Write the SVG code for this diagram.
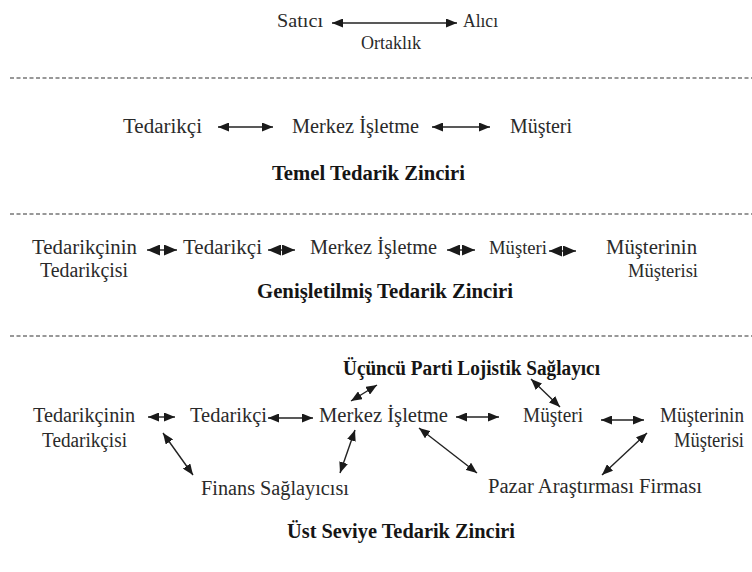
<svg xmlns="http://www.w3.org/2000/svg" width="752" height="572" viewBox="0 0 752 572">
<style>
text{font-family:"Liberation Serif","Times New Roman","DejaVu Serif",serif;font-size:20px;fill:#2a2a2a}
.s{font-size:18px}
.m{font-size:19px}
.b{font-weight:bold;fill:#151515}
.ln{stroke:#222;stroke-width:1.4;fill:none;marker-start:url(#ah);marker-end:url(#ah)}
.big{stroke:#222;stroke-width:1.4;fill:none;marker-start:url(#ab);marker-end:url(#ab)}
.sep{stroke:#333;stroke-width:1.2;stroke-dasharray:4 2.5}
</style>
<defs>
<marker id="ah" markerUnits="userSpaceOnUse" markerWidth="11" markerHeight="9" refX="11" refY="4.5" orient="auto-start-reverse"><path d="M0,0 L11,4.5 L0,9 z" fill="#1a1a1a"/></marker>
<marker id="ab" markerUnits="userSpaceOnUse" markerWidth="13" markerHeight="11" refX="13" refY="5.5" orient="auto-start-reverse"><path d="M0,0 L13,5.5 L0,11 z" fill="#1a1a1a"/></marker>
</defs>
<rect width="752" height="572" fill="#fff"/>
<g id="separators">
<line class="sep" x1="10" y1="78" x2="752" y2="78"/>
<line class="sep" x1="10" y1="214" x2="752" y2="214"/>
<line class="sep" x1="10" y1="336" x2="752" y2="336"/>
</g>
<g id="connectors">
<line class="ln" x1="332" y1="23" x2="457" y2="23"/>
<line class="ln" x1="218" y1="127" x2="273" y2="127"/>
<line class="ln" x1="432" y1="127" x2="490" y2="127"/>
<line class="big" x1="147" y1="250" x2="177" y2="250"/>
<line class="big" x1="268" y1="250" x2="295" y2="250"/>
<line class="big" x1="447" y1="250" x2="475" y2="250"/>
<line class="big" x1="549" y1="251" x2="576" y2="251"/>
<line class="ln" x1="148" y1="417" x2="175" y2="417"/>
<line class="ln" x1="268" y1="418" x2="313" y2="418"/>
<line class="ln" x1="456" y1="417" x2="499" y2="417"/>
<line class="ln" x1="601" y1="420" x2="644" y2="420"/>
<line class="ln" x1="163" y1="433" x2="193" y2="475"/>
<line class="ln" x1="355" y1="430" x2="340" y2="473"/>
<line class="ln" x1="351" y1="401" x2="377" y2="385"/>
<line class="ln" x1="531" y1="379" x2="560" y2="407"/>
<line class="ln" x1="419" y1="428" x2="477" y2="473"/>
<line class="ln" x1="647" y1="433" x2="602" y2="475"/>
</g>
<g id="satici"><text class="s" x="277" y="27" textLength="46" lengthAdjust="spacingAndGlyphs">Satıcı</text></g>
<g id="alici"><text class="s" x="463" y="27" textLength="35" lengthAdjust="spacingAndGlyphs">Alıcı</text></g>
<g id="ortaklik"><text class="s" x="361" y="49" textLength="60" lengthAdjust="spacingAndGlyphs">Ortaklık</text></g>

<g id="r2-tedarikci"><text x="123" y="133" textLength="79" lengthAdjust="spacingAndGlyphs">Tedarikçi</text></g>
<g id="r2-merkez"><text x="292" y="133" textLength="127" lengthAdjust="spacingAndGlyphs">Merkez İşletme</text></g>
<g id="r2-musteri"><text x="510" y="133" textLength="62" lengthAdjust="spacingAndGlyphs">Müşteri</text></g>
<g id="r2-title"><text class="b" x="272" y="180" textLength="193" lengthAdjust="spacingAndGlyphs">Temel Tedarik Zinciri</text></g>

<g id="r3-tt"><text x="32" y="254" textLength="105" lengthAdjust="spacingAndGlyphs">Tedarikçinin</text><text x="40" y="277" textLength="88" lengthAdjust="spacingAndGlyphs">Tedarikçisi</text></g>
<g id="r3-tedarikci"><text x="183" y="254" textLength="79" lengthAdjust="spacingAndGlyphs">Tedarikçi</text></g>
<g id="r3-merkez"><text x="310" y="254" textLength="127" lengthAdjust="spacingAndGlyphs">Merkez İşletme</text></g>
<g id="r3-musteri"><text class="m" x="489" y="254" textLength="58" lengthAdjust="spacingAndGlyphs">Müşteri</text></g>
<g id="r3-mm"><text x="606" y="254" textLength="91" lengthAdjust="spacingAndGlyphs">Müşterinin</text><text class="m" x="628" y="277" textLength="70" lengthAdjust="spacingAndGlyphs">Müşterisi</text></g>
<g id="r3-title"><text class="b" x="257" y="298" textLength="256" lengthAdjust="spacingAndGlyphs">Genişletilmiş Tedarik Zinciri</text></g>

<g id="r4-3pl"><text class="b" x="343" y="375" textLength="257" lengthAdjust="spacingAndGlyphs">Üçüncü Parti Lojistik Sağlayıcı</text></g>
<g id="r4-tt"><text x="33" y="422" textLength="102" lengthAdjust="spacingAndGlyphs">Tedarikçinin</text><text x="42" y="447" textLength="85" lengthAdjust="spacingAndGlyphs">Tedarikçisi</text></g>
<g id="r4-tedarikci"><text x="190" y="422" textLength="77" lengthAdjust="spacingAndGlyphs">Tedarikçi</text></g>
<g id="r4-merkez"><text x="319" y="422" textLength="129" lengthAdjust="spacingAndGlyphs">Merkez İşletme</text></g>
<g id="r4-musteri"><text x="523" y="422" textLength="60" lengthAdjust="spacingAndGlyphs">Müşteri</text></g>
<g id="r4-mm"><text x="660" y="422" textLength="84" lengthAdjust="spacingAndGlyphs">Müşterinin</text><text x="674" y="447" textLength="70" lengthAdjust="spacingAndGlyphs">Müşterisi</text></g>
<g id="r4-finans"><text x="201" y="495" textLength="148" lengthAdjust="spacingAndGlyphs">Finans Sağlayıcısı</text></g>
<g id="r4-pazar"><text x="488" y="493" textLength="214" lengthAdjust="spacingAndGlyphs">Pazar Araştırması Firması</text></g>
<g id="r4-title"><text class="b" x="287" y="538" textLength="228" lengthAdjust="spacingAndGlyphs">Üst Seviye Tedarik Zinciri</text></g>
</svg>
